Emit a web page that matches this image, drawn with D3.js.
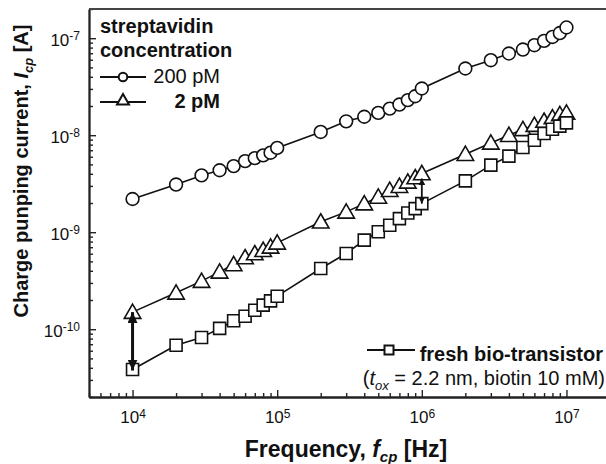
<!DOCTYPE html>
<html>
<head>
<meta charset="utf-8">
<script src="https://cdn.jsdelivr.net/npm/d3@7"></script>
<style>
  html, body { margin: 0; background: #fff; overflow: hidden; }
  svg { display: block; }
  text { font-family: "Liberation Sans", Arial, sans-serif; fill: #111; }
</style>
</head>
<body>
<div id="chart"></div>
<script>
// data (frequency in Hz, current in A)
var freq = [1e4, 2e4, 3e4, 4e4, 5e4, 6e4, 7e4, 8e4, 9e4,
            1e5, 2e5, 3e5, 4e5, 5e5, 6e5, 7e5, 8e5, 9e5,
            1e6, 2e6, 3e6, 4e6, 5e6, 6e6, 7e6, 8e6, 9e6, 1e7];

var cp200pM = [2.2e-9, 3.1e-9, 3.85e-9, 4.35e-9, 4.8e-9, 5.4e-9, 5.8e-9, 6.2e-9, 6.6e-9,
               7.4e-9, 1.08e-8, 1.39e-8, 1.55e-8, 1.70e-8, 1.88e-8, 2.07e-8, 2.30e-8, 2.52e-8,
               3.03e-8, 4.87e-8, 5.93e-8, 6.95e-8, 7.64e-8, 8.47e-8, 9.38e-8, 1.03e-7, 1.13e-7, 1.29e-7];

var cp2pM = [1.5e-10, 2.37e-10, 3.13e-10, 3.9e-10, 4.65e-10, 5.48e-10, 6.03e-10, 6.52e-10, 7.06e-10,
             7.77e-10, 1.28e-9, 1.62e-9, 1.97e-9, 2.31e-9, 2.71e-9, 2.98e-9, 3.3e-9, 3.66e-9,
             4.03e-9, 6.37e-9, 8.33e-9, 1.0e-8, 1.15e-8, 1.27e-8, 1.40e-8, 1.52e-8, 1.64e-8, 1.70e-8];

var cpFresh = [3.84e-11, 6.84e-11, 8.2e-11, 1.02e-10, 1.22e-10, 1.36e-10, 1.57e-10, 1.77e-10, 1.96e-10,
               2.19e-10, 4.22e-10, 6.03e-10, 8.28e-10, 1.01e-9, 1.18e-9, 1.38e-9, 1.58e-9, 1.75e-9,
               1.97e-9, 3.38e-9, 4.91e-9, 6.08e-9, 7.46e-9, 8.87e-9, 1.04e-8, 1.15e-8, 1.24e-8, 1.34e-8];

var xDomain = [5e3, 2e7];
var yDomain = [2e-11, 2e-7];
var xMajor = [1e4, 1e5, 1e6, 1e7];
var xMajorLabels = ["4", "5", "6", "7"];
var yMajor = [1e-10, 1e-9, 1e-8, 1e-7];
var yMajorLabels = ["-10", "-9", "-8", "-7"];
// arrows mark the shift between 2 pM and fresh at these frequencies
var arrowFreq = [1e4, 1e6];

// Set dimensions
var svgWidth = 606;
var svgHeight = 464;
var margin = {top: 9, right: -4, bottom: 67, left: 89};
var width = svgWidth - margin.left - margin.right;
var height = svgHeight - margin.top - margin.bottom;

var svg = d3.select("#chart")
  .append("svg")
  .attr("width", svgWidth)
  .attr("height", svgHeight);

var defs = svg.append("defs");
function arrowHead(id, w, l) {
  defs.append("marker")
    .attr("id", id)
    .attr("viewBox", "0 0 10 10")
    .attr("refX", 10)
    .attr("refY", 5)
    .attr("markerUnits", "userSpaceOnUse")
    .attr("markerWidth", l)
    .attr("markerHeight", w)
    .attr("preserveAspectRatio", "none")
    .attr("orient", "auto-start-reverse")
    .append("path")
    .attr("d", "M0,0 L10,5 L0,10 Z")
    .attr("fill", "#111");
}
arrowHead("headBig", 10, 11);
arrowHead("headSmall", 7, 7);

var chartGroup = svg.append("g")
  .attr("transform", `translate(${margin.left}, ${margin.top})`);

// scales
var x = d3.scaleLog().domain(xDomain).range([0, width]);
var y = d3.scaleLog().domain(yDomain).range([height, 0]);

function minorTicks(dom) {
  var out = [];
  var lo = Math.floor(Math.log10(dom[0])), hi = Math.ceil(Math.log10(dom[1]));
  for (var k = lo; k <= hi; k++) {
    for (var m = 2; m <= 9; m++) {
      var v = m * Math.pow(10, k);
      if (v >= dom[0] && v <= dom[1]) out.push(v);
    }
  }
  return out;
}

// axes, ticks point inward
chartGroup.append("g")
  .attr("class", "axis")
  .attr("transform", `translate(0, ${height})`)
  .call(d3.axisBottom(x).tickValues(minorTicks(xDomain)).tickSize(-4).tickSizeOuter(0).tickFormat(""));

var xAxisG = chartGroup.append("g")
  .attr("class", "axis")
  .attr("transform", `translate(0, ${height})`)
  .call(d3.axisBottom(x).tickValues(xMajor).tickSize(-7).tickSizeOuter(0).tickPadding(14).tickFormat(""));

xAxisG.selectAll(".tick text").each(function(d, i) {
  var t = d3.select(this).attr("font-size", 17).attr("font-family", null);
  t.append("tspan").text("10");
  t.append("tspan").attr("dy", "-0.45em").attr("font-size", 12).text(xMajorLabels[i]);
});

chartGroup.append("g")
  .attr("class", "axis")
  .call(d3.axisLeft(y).tickValues(minorTicks(yDomain)).tickSize(-4).tickSizeOuter(0).tickFormat(""));

var yAxisG = chartGroup.append("g")
  .attr("class", "axis")
  .call(d3.axisLeft(y).tickValues(yMajor).tickSize(-7).tickSizeOuter(0).tickPadding(9).tickFormat(""));

yAxisG.selectAll(".tick text").each(function(d, i) {
  var t = d3.select(this).attr("font-size", 17).attr("font-family", null).attr("dy", "0.45em");
  t.append("tspan").text("10");
  t.append("tspan").attr("dy", "-0.5em").attr("font-size", 12).text(yMajorLabels[i]);
});

chartGroup.selectAll(".axis path, .axis line")
  .attr("stroke", "#222")
  .attr("stroke-width", 1.4);
chartGroup.selectAll(".axis path").attr("stroke-width", 1.8);

// top frame (right side falls outside the picture)
chartGroup.append("line")
  .attr("x1", 0).attr("x2", width).attr("y1", 0).attr("y2", 0)
  .attr("stroke", "#444").attr("stroke-width", 2);

// series
var series = [
  {name: "200pM", values: cp200pM, shape: "circle"},
  {name: "2pM", values: cp2pM, shape: "triangle"},
  {name: "fresh", values: cpFresh, shape: "square"}
];

var line = d3.line()
  .x(d => x(d[0]))
  .y(d => y(d[1]));

var shapes = {
  circle: d3.symbol().type(d3.symbolCircle).size(Math.PI * 6.4 * 6.4),
  triangle: d3.symbol().type(d3.symbolTriangle).size(Math.sqrt(3) / 4 * 16.5 * 16.5),
  square: d3.symbol().type(d3.symbolSquare).size(12 * 12)
};

series.forEach(function(s) {
  var pts = freq.map((f, i) => [f, s.values[i]]);
  chartGroup.append("path")
    .datum(pts)
    .attr("d", line)
    .attr("fill", "none")
    .attr("stroke", "#111")
    .attr("stroke-width", 1.6);

  chartGroup.selectAll(null)
    .data(pts)
    .enter()
    .append("path")
    .attr("d", shapes[s.shape])
    .attr("transform", d => `translate(${x(d[0])}, ${y(d[1]) + (s.shape == "triangle" ? 1.5 : 0)})`)
    .attr("fill", "#fff")
    .attr("stroke", "#111")
    .attr("stroke-width", 1.6);
});

// double arrows between 2 pM and fresh
arrowFreq.forEach(function(f, j) {
  var i = freq.indexOf(f);
  chartGroup.append("line")
    .attr("x1", x(f)).attr("x2", x(f))
    .attr("y1", y(cp2pM[i]) + (j == 0 ? 0 : 5))
    .attr("y2", y(cpFresh[i]) + (j == 0 ? 1 : 0))
    .attr("stroke", "#111")
    .attr("stroke-width", j == 0 ? 3 : 1.8)
    .attr("marker-start", j == 0 ? "url(#headBig)" : "url(#headSmall)")
    .attr("marker-end", j == 0 ? "url(#headBig)" : "url(#headSmall)");
});

// legend, top left
var legendTop = svg.append("g");
legendTop.append("text").attr("x", 100).attr("y", 33)
  .attr("font-size", 20).attr("font-weight", "bold").text("streptavidin");
legendTop.append("text").attr("x", 100).attr("y", 57)
  .attr("font-size", 20).attr("font-weight", "bold").text("concentration");

legendTop.append("line").attr("x1", 100).attr("x2", 146).attr("y1", 77).attr("y2", 77)
  .attr("stroke", "#111").attr("stroke-width", 2.2);
legendTop.append("path")
  .attr("d", d3.symbol().type(d3.symbolCircle).size(Math.PI * 4.3 * 4.3))
  .attr("transform", "translate(123, 77)")
  .attr("fill", "#fff").attr("stroke", "#111").attr("stroke-width", 2);
legendTop.append("text").attr("x", 220).attr("y", 83).attr("text-anchor", "end")
  .attr("font-size", 20).text("200 pM");

legendTop.append("line").attr("x1", 100).attr("x2", 146).attr("y1", 102).attr("y2", 102)
  .attr("stroke", "#111").attr("stroke-width", 2.2);
legendTop.append("path")
  .attr("d", d3.symbol().type(d3.symbolTriangle).size(Math.sqrt(3) / 4 * 12 * 12))
  .attr("transform", "translate(123, 101)")
  .attr("fill", "#fff").attr("stroke", "#111").attr("stroke-width", 2);
legendTop.append("text").attr("x", 220).attr("y", 108).attr("text-anchor", "end")
  .attr("font-size", 20).attr("font-weight", "bold").text("2 pM");

// legend, bottom right
var legendBot = svg.append("g");
legendBot.append("line").attr("x1", 367).attr("x2", 415).attr("y1", 350).attr("y2", 350)
  .attr("stroke", "#111").attr("stroke-width", 2.2);
legendBot.append("path")
  .attr("d", d3.symbol().type(d3.symbolSquare).size(9 * 9))
  .attr("transform", "translate(389, 350)")
  .attr("fill", "#fff").attr("stroke", "#111").attr("stroke-width", 2);
legendBot.append("text").attr("x", 603).attr("y", 361).attr("text-anchor", "end")
  .attr("font-size", 20).attr("font-weight", "bold").text("fresh bio-transistor");

var note = legendBot.append("text").attr("x", 605).attr("y", 385).attr("text-anchor", "end")
  .attr("font-size", 20);
note.append("tspan").text("(");
note.append("tspan").attr("font-style", "italic").text("t");
note.append("tspan").attr("font-style", "italic").attr("font-size", 13).attr("dy", 5).text("ox");
note.append("tspan").attr("dy", -5).text(" = 2.2 nm, biotin 10 mM)");

// axis titles
var xTitle = svg.append("text")
  .attr("x", 346).attr("y", 457)
  .attr("text-anchor", "middle")
  .attr("font-size", 23).attr("font-weight", "bold");
xTitle.append("tspan").text("Frequency, ");
xTitle.append("tspan").attr("font-style", "italic").text("f");
xTitle.append("tspan").attr("font-style", "italic").attr("font-size", 15).attr("dy", 5).text("cp");
xTitle.append("tspan").attr("dy", -5).text(" [Hz]");

var yTitle = svg.append("text")
  .attr("transform", "translate(28, 171) rotate(-90)")
  .attr("text-anchor", "middle")
  .attr("font-size", 20).attr("font-weight", "bold");
yTitle.append("tspan").text("Charge punping current, ");
yTitle.append("tspan").attr("font-style", "italic").text("I");
yTitle.append("tspan").attr("font-style", "italic").attr("font-size", 13).attr("dy", 5).text("cp");
yTitle.append("tspan").attr("dy", -5).text(" [A]");
</script>
</body>
</html>
